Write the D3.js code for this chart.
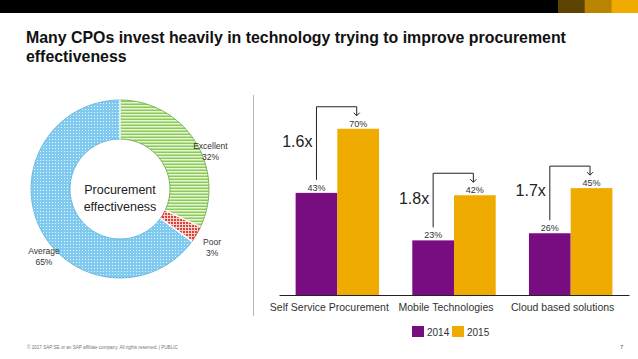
<!DOCTYPE html>
<html>
<head>
<meta charset="utf-8">
<script src="https://cdn.jsdelivr.net/npm/d3@7"></script>
<style>
  html, body { margin: 0; padding: 0; background: #fff; }
  svg { display: block; font-family: "Liberation Sans", Arial, sans-serif; }
</style>
</head>
<body>
<svg id="chart" width="638" height="359"></svg>
<script>
// ---------- data ----------
const titleLines = ["Many CPOs invest heavily in technology trying to improve procurement", "effectiveness"];
const donutLabels = ["Excellent", "Poor", "Average"];
const donutValues = [32, 3, 65];
const donutCenterText = ["Procurement", "effectiveness"];

const categories = ["Self Service Procurement", "Mobile Technologies", "Cloud based solutions"];
const seriesNames = ["2014", "2015"];
const values2014 = [43, 23, 26];
const values2015 = [70, 42, 45];
const multipliers = ["1.6x", "1.8x", "1.7x"];
const footerText = "© 2017 SAP SE or an SAP affiliate company. All rights reserved.  |  PUBLIC";
const pageNumber = "7";

// ---------- setup ----------
const svg = d3.select("#chart");
const W = 638, H = 359;
const purple = "#770d80", gold = "#f0ab00";

// top bar
svg.append("rect").attr("x", 0).attr("y", 0).attr("width", W).attr("height", 13).attr("fill", "#000");
const barColors = ["#5c4300", "#b98500", "#f0ab00"];
const topScale = d3.scaleBand().domain(barColors).range([558, 638]);
svg.selectAll("rect.tb").data(barColors).join("rect")
  .attr("class", "tb")
  .attr("x", d => topScale(d)).attr("y", 0)
  .attr("width", topScale.bandwidth() + 0.5).attr("height", 13)
  .attr("fill", d => d);

// title
const title = svg.append("g");
titleLines.forEach((t, i) => {
  title.append("text").attr("x", 26).attr("y", 43 + i * 18.5)
    .attr("font-weight", "bold").attr("font-size", 16).attr("fill", "#111").text(t);
});
{
  const t0 = title.select("text").node();
  const w = t0.getComputedTextLength();
  const fs = 16 * 540 / w;
  title.selectAll("text").attr("font-size", fs.toFixed(2));
}

// ---------- patterns ----------
const defs = svg.append("defs");
const pEx = defs.append("pattern").attr("id", "pEx").attr("patternUnits", "userSpaceOnUse").attr("width", 4).attr("height", 3);
pEx.append("rect").attr("width", 4).attr("height", 3).attr("fill", "#e6f5d6");
pEx.append("rect").attr("y", 1.5).attr("width", 4).attr("height", 1.5).attr("fill", "#8ccb58");

const pPo = defs.append("pattern").attr("id", "pPo").attr("patternUnits", "userSpaceOnUse").attr("width", 3).attr("height", 3);
pPo.append("rect").attr("width", 3).attr("height", 3).attr("fill", "#f8d3d0");
pPo.append("rect").attr("width", 2).attr("height", 2).attr("fill", "#d8443c");

const pAv = defs.append("pattern").attr("id", "pAv").attr("patternUnits", "userSpaceOnUse").attr("width", 3).attr("height", 3);
pAv.append("rect").attr("width", 3).attr("height", 3).attr("fill", "#7fcaee");
pAv.append("rect").attr("x", 1).attr("y", 1).attr("width", 1).attr("height", 1).attr("fill", "#e6f6fd");

const fills = { "Excellent": "url(#pEx)", "Poor": "url(#pPo)", "Average": "url(#pAv)" };
const strokes = { "Excellent": "#64a83a", "Poor": "#c0392b", "Average": "#5aaedc" };

// ---------- donut ----------
const cx = 120, cy = 189, rOut = 89, rIn = 50;
const donutData = donutLabels.map((l, i) => ({ label: l, value: donutValues[i] }));
const pie = d3.pie().value(d => d.value).sort(null);
const arc = d3.arc().innerRadius(rIn).outerRadius(rOut);
const dg = svg.append("g").attr("transform", `translate(${cx},${cy})`);
const arcs = pie(donutData);
dg.selectAll("path.sl").data(arcs).join("path")
  .attr("class", "sl")
  .attr("d", arc)
  .attr("fill", d => fills[d.data.label])
  .attr("stroke", d => strokes[d.data.label])
  .attr("stroke-width", 0.8);
dg.selectAll("line.sep").data(arcs).join("line")
  .attr("class", "sep")
  .attr("x1", d => rIn * Math.sin(d.startAngle)).attr("y1", d => -rIn * Math.cos(d.startAngle))
  .attr("x2", d => rOut * Math.sin(d.startAngle)).attr("y2", d => -rOut * Math.cos(d.startAngle))
  .attr("stroke", "#fff").attr("stroke-width", 1.5);

dg.selectAll("text.ct").data(donutCenterText).join("text")
  .attr("class", "ct")
  .attr("x", 0).attr("y", (d, i) => 5 + i * 17)
  .attr("text-anchor", "middle").attr("font-size", 12.5).attr("fill", "#222")
  .text(d => d);

// labels
const labelShift = { "Excellent": [6, 16], "Poor": [6, 7], "Average": [13, 22] };
arcs.forEach(d => {
  const a = (d.startAngle + d.endAngle) / 2;
  const r = 100;
  const x = r * Math.sin(a) + labelShift[d.data.label][0];
  const y = -r * Math.cos(a) + labelShift[d.data.label][1];
  const t = dg.append("text").attr("text-anchor", "middle").attr("font-size", 8.5).attr("fill", "#333");
  t.append("tspan").attr("x", x).attr("y", y - 2).text(d.data.label);
  t.append("tspan").attr("x", x).attr("y", y + 9).text(d.data.value + "%");
});

// divider
svg.append("line").attr("x1", 253.5).attr("x2", 253.5).attr("y1", 95).attr("y2", 316)
  .attr("stroke", "#b5b5b5").attr("stroke-width", 1);

// ---------- bar chart ----------
const x0 = d3.scaleBand().domain(categories).range([279, 629]).paddingInner(0.285).paddingOuter(0.1425);
const x1 = d3.scaleBand().domain(seriesNames).range([0, x0.bandwidth()]);
const y = d3.scaleLinear().domain([0, 100]).range([295, 57.5]);
const barData = categories.map((c, i) => ({ cat: c, vals: [values2014[i], values2015[i]], mult: multipliers[i] }));
const colors = [purple, gold];

const gb = svg.append("g");
barData.forEach(g => {
  g.vals.forEach((v, j) => {
    const bx = x0(g.cat) + x1(seriesNames[j]);
    gb.append("rect").attr("x", bx).attr("y", y(v))
      .attr("width", x1.bandwidth()).attr("height", y(0) - y(v)).attr("fill", colors[j]);
    gb.append("text").attr("x", bx + x1.bandwidth() / 2).attr("y", y(v) - 2)
      .attr("text-anchor", "middle").attr("font-size", 9).attr("fill", "#333").text(v + "%");
  });
  const xa = x0(g.cat) + x1(seriesNames[0]) + x1.bandwidth() / 2;
  const xb = x0(g.cat) + x1(seriesNames[1]) + x1.bandwidth() / 2 - 1.5;
  const yTop = y(g.vals[1]) - 22;
  const yStart = y(g.vals[0]) - 13;
  const yEnd = y(g.vals[1]) - 13;
  gb.append("path")
    .attr("d", `M${xa},${yStart}V${yTop}H${xb}V${yEnd}`)
    .attr("fill", "none").attr("stroke", "#222").attr("stroke-width", 1);
  gb.append("path")
    .attr("d", `M${xb - 3},${yEnd - 3}L${xb},${yEnd}L${xb + 3},${yEnd - 3}`)
    .attr("fill", "none").attr("stroke", "#222").attr("stroke-width", 1);
  gb.append("text").attr("x", xa - 4).attr("y", (yTop + yStart) / 2 - 1)
    .attr("text-anchor", "end").attr("dominant-baseline", "middle")
    .attr("font-size", 16).attr("fill", "#222").text(g.mult);
});

const axis = d3.axisBottom(x0).tickSize(0).tickPadding(9);
const ga = svg.append("g").attr("transform", `translate(0,${y(0)})`).call(axis);
ga.select(".domain").attr("stroke", "#222").attr("stroke-width", 1.2);
ga.selectAll(".tick text").attr("font-size", 10.5).attr("fill", "#333")
  .attr("font-family", "'Liberation Sans', Arial, sans-serif")
  .attr("dx", -8);

// legend
const lg = svg.append("g").attr("transform", "translate(412,326)");
seriesNames.forEach((s, i) => {
  const gx = i * 40;
  lg.append("rect").attr("x", gx).attr("y", 0).attr("width", 12).attr("height", 11).attr("fill", colors[i]);
  lg.append("text").attr("x", gx + 15).attr("y", 9.5).attr("font-size", 10).attr("fill", "#333").text(s);
});

// footer
svg.append("text").attr("x", 27).attr("y", 349).attr("font-size", 4.6).attr("fill", "#777").text(footerText);
svg.append("text").attr("x", 620).attr("y", 349).attr("font-size", 6).attr("fill", "#555").text(pageNumber);
</script>
</body>
</html>
